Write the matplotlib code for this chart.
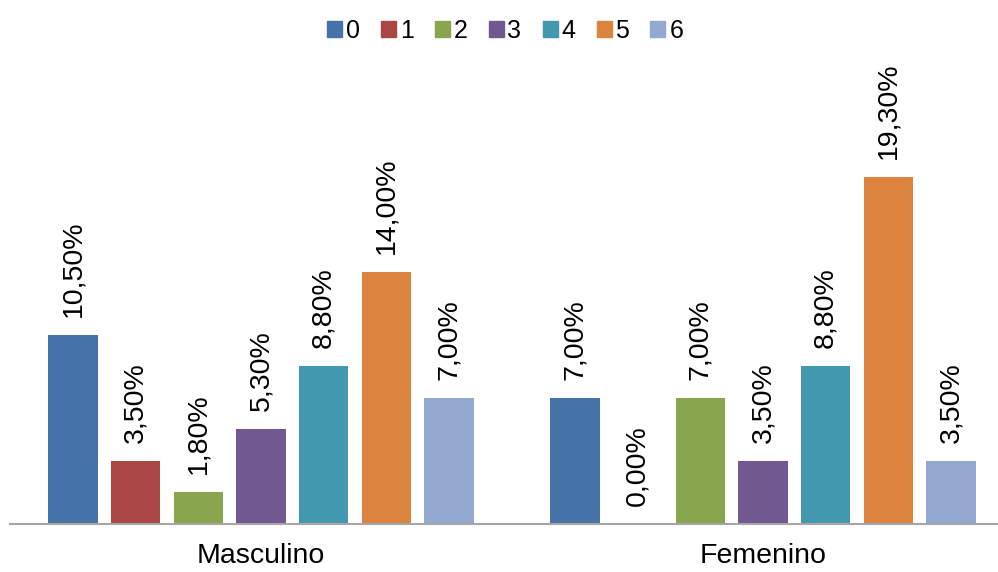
import numpy as np
import matplotlib
matplotlib.use('Agg')
from matplotlib import pyplot as plt
from matplotlib.patches import Patch

plt.rcParams['font.family'] = ['Liberation Sans', 'DejaVu Sans']

groups = ['Masculino', 'Femenino']
series = ['0', '1', '2', '3', '4', '5', '6']
values = [
    [10.5, 7.0],
    [3.5, 0.0],
    [1.8, 7.0],
    [5.3, 3.5],
    [8.8, 8.8],
    [14.0, 19.3],
    [7.0, 3.5],
]
colors = ['#4572A7', '#AA4643', '#89A54E', '#71588F', '#4198AF', '#DB843D', '#93A9CF']


def fmt(v):
    return ('%.2f%%' % v).replace('.', ',')


def main():
    fig = plt.figure(figsize=(9.98, 5.72), dpi=100)
    ax = fig.add_axes([10 / 998, 48 / 572, 988 / 998, 449.5 / 572])
    x = np.arange(len(groups))
    pitch = 0.1248
    width = 0.098
    for i, (name, vals, c) in enumerate(zip(series, values, colors)):
        pos = x + (i - 3) * pitch
        bars = ax.bar(pos, vals, width, color=c, label=name)
        for b, v in zip(bars, vals):
            ax.annotate(fmt(v), (b.get_x() + b.get_width() / 2, v),
                        xytext=(0, 13), textcoords='offset points',
                        rotation=90, ha='center', va='bottom', fontsize=20.5)
    ax.set_xlim(-0.5, 1.468)
    ax.set_ylim(0, 25)
    for s in ['top', 'right', 'left']:
        ax.spines[s].set_visible(False)
    ax.spines['bottom'].set_color('#A6A6A6')
    ax.spines['bottom'].set_linewidth(1.5)
    ax.set_yticks([])
    ax.set_xticks(x)
    ax.set_xticklabels(groups, fontsize=20.5)
    ax.tick_params(axis='x', length=0, pad=14)

    handles = [Patch(color=c) for c in colors]
    fig.legend(handles, series, loc='center', bbox_to_anchor=(505 / 998, 1 - 31 / 572),
               ncol=7, frameon=False, fontsize=18, handlelength=0.6, handleheight=0.6,
               handletextpad=0.16, columnspacing=0.84)
    fig.savefig('out.png', dpi=100)


main()
